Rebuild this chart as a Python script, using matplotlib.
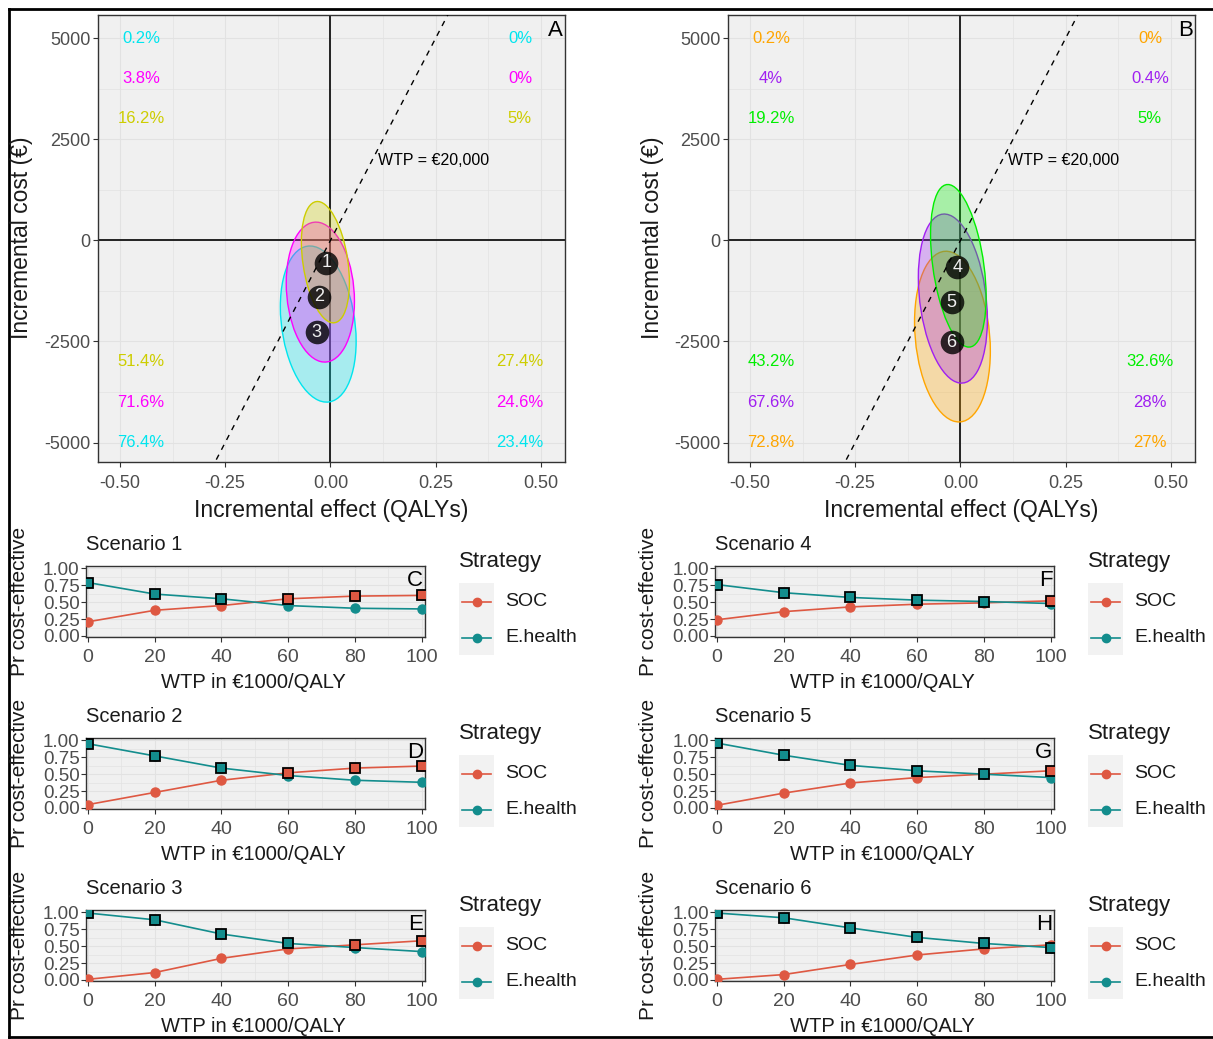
import numpy as np
import matplotlib
matplotlib.use('Agg')
import matplotlib.pyplot as plt
from matplotlib.patches import Circle, Rectangle
from matplotlib.lines import Line2D
from matplotlib.transforms import Affine2D

plt.rcParams['font.family'] = ['Liberation Sans', 'DejaVu Sans']
plt.rcParams['axes.unicode_minus'] = False

# ---- data: cost-effectiveness planes ----
wtp_threshold = 20000
pct_y_top = [5000, 4000, 3000]
pct_y_bot = [-3000, -4000, -5000]

# panel A (scenarios 1-3)
a_ids = ['1', '2', '3']
a_colors = ['#CDCD00', '#FF00FF', '#00E5EE']
a_cx = [-0.012, -0.024, -0.029]
a_cy = [-540, -1280, -2070]
a_sx = [0.057, 0.081, 0.090]
a_sy = [1500, 1730, 1930]
a_rho = [-0.33, -0.13, -0.22]
a_lab_x = [-0.010, -0.028, -0.033]
a_lab_y = [-560, -1400, -2270]
a_top_left = ['16.2%', '3.8%', '0.2%']      # listed in scenario order 1,2,3
a_top_right = ['5%', '0%', '0%']
a_bot_left = ['51.4%', '71.6%', '76.4%']
a_bot_right = ['27.4%', '24.6%', '23.4%']

# panel B (scenarios 4-6)
b_ids = ['4', '5', '6']
b_colors = ['#00EE00', '#A020F0', '#FFA500']
b_cx = [-0.005, -0.018, -0.019]
b_cy = [-630, -1440, -2380]
b_sx = [0.066, 0.082, 0.090]
b_sy = [2010, 2090, 2110]
b_rho = [-0.38, -0.25, -0.17]
b_lab_x = [-0.007, -0.021, -0.021]
b_lab_y = [-670, -1530, -2520]
b_top_left = ['19.2%', '4%', '0.2%']
b_top_right = ['5%', '0.4%', '0%']
b_bot_left = ['43.2%', '67.6%', '72.8%']
b_bot_right = ['32.6%', '28%', '27%']

# ---- data: acceptability curves ----
wtp = [0, 20, 40, 60, 80, 100]
scen_names = ['Scenario 1', 'Scenario 2', 'Scenario 3', 'Scenario 4', 'Scenario 5', 'Scenario 6']
scen_letters = ['C', 'D', 'E', 'F', 'G', 'H']
soc = [
    [0.21, 0.38, 0.45, 0.55, 0.59, 0.60],
    [0.05, 0.23, 0.41, 0.52, 0.59, 0.62],
    [0.01, 0.11, 0.32, 0.46, 0.52, 0.58],
    [0.24, 0.36, 0.43, 0.47, 0.49, 0.52],
    [0.04, 0.22, 0.37, 0.45, 0.50, 0.55],
    [0.01, 0.08, 0.23, 0.37, 0.46, 0.52],
]
ehealth = [
    [0.79, 0.62, 0.55, 0.45, 0.41, 0.40],
    [0.95, 0.77, 0.59, 0.48, 0.41, 0.38],
    [0.99, 0.89, 0.68, 0.54, 0.48, 0.42],
    [0.76, 0.64, 0.57, 0.53, 0.51, 0.48],
    [0.96, 0.78, 0.63, 0.55, 0.50, 0.45],
    [0.99, 0.92, 0.77, 0.63, 0.54, 0.48],
]
# strategy on the frontier at each WTP
frontier = [
    ['E', 'E', 'E', 'S', 'S', 'S'],
    ['E', 'E', 'E', 'S', 'S', 'S'],
    ['E', 'E', 'E', 'E', 'S', 'S'],
    ['E', 'E', 'E', 'E', 'E', 'S'],
    ['E', 'E', 'E', 'E', 'E', 'S'],
    ['E', 'E', 'E', 'E', 'E', 'E'],
]
strategies = ['SOC', 'E.health']
soc_col = '#DE5842'
eh_col = '#138D8D'

W, H = 1213, 1039
fig = plt.figure(figsize=(W / 100, H / 100), dpi=100)

BG = '#F0F0F0'
GRID = '#E2E2E2'
TICKC = '#4D4D4D'


def px_axes(l, t, r, b):
    return fig.add_axes([l / W, 1 - b / H, (r - l) / W, (b - t) / H])


def ftext(x, y, s, **kw):
    return fig.text(x / W, 1 - y / H, s, **kw)


def style(ax, fs):
    ax.set_facecolor(BG)
    for sp in ax.spines.values():
        sp.set_color('#333333')
        sp.set_linewidth(1.0)
    ax.grid(True, which='major', color=GRID, lw=0.8)
    ax.grid(True, which='minor', color=GRID, lw=0.5)
    ax.set_axisbelow(True)
    ax.tick_params(which='major', length=3.5, width=0.8, color='#333333',
                   labelcolor=TICKC, labelsize=fs, pad=2)
    ax.tick_params(which='minor', length=0)


def ce_plane(ax, ids, colors, cx, cy, sx, sy, rho, lx, ly, tl, tr, bl, br, letter):
    style(ax, 13)
    ax.tick_params(axis='x', pad=6)
    ax.set_xlim(-0.552, 0.557)
    ax.set_ylim(-5480, 5570)
    ax.set_xticks([-0.5, -0.25, 0, 0.25, 0.5])
    ax.set_xticklabels(['-0.50', '-0.25', '0.00', '0.25', '0.50'])
    ax.set_yticks([-5000, -2500, 0, 2500, 5000])
    ax.set_xticks([-0.375, -0.125, 0.125, 0.375], minor=True)
    ax.set_yticks([-3750, -1250, 1250, 3750], minor=True)
    ax.axhline(0, color='#222222', lw=1.4, zorder=2)
    ax.axvline(0, color='#222222', lw=1.4, zorder=2)
    xl = np.array([-0.6, 0.6])
    ax.plot(xl, wtp_threshold * xl, color='black', ls=(0, (4, 4)), lw=1.0, zorder=5)
    ax.text(0.112, 1975, 'WTP = €20,000', fontsize=11.5, ha='left', va='center', zorder=6)
    # ellipses, last scenario at the bottom
    for i in range(len(ids) - 1, -1, -1):
        m = Affine2D().from_values(sx[i], sy[i] * rho[i], 0, sy[i] * np.sqrt(1 - rho[i] ** 2), cx[i], cy[i])
        ax.add_patch(Circle((0, 0), 1, transform=m + ax.transData, facecolor=colors[i],
                            alpha=0.3, edgecolor='none', zorder=3))
        ax.add_patch(Circle((0, 0), 1, transform=m + ax.transData, facecolor='none',
                            edgecolor=colors[i], lw=1.0, zorder=3))
    for i in range(len(ids)):
        ax.plot(lx[i], ly[i], 'o', ms=17, color='black', alpha=0.8, mec='none', zorder=7)
        ax.text(lx[i], ly[i], ids[i], color='#F0F0F0', fontsize=13, ha='center', va='center', zorder=8)
    # quadrant percentages
    for i in range(len(ids)):
        j = len(ids) - 1 - i
        ax.text(-0.45, pct_y_top[j], tl[i], color=colors[i], fontsize=12, ha='center', va='center')
        ax.text(0.45, pct_y_top[j], tr[i], color=colors[i], fontsize=12, ha='center', va='center')
        ax.text(-0.45, pct_y_bot[i], bl[i], color=colors[i], fontsize=12, ha='center', va='center')
        ax.text(0.45, pct_y_bot[i], br[i], color=colors[i], fontsize=12, ha='center', va='center')
    ax.text(0.995, 0.966, letter, transform=ax.transAxes, fontsize=16, ha='right', va='center')


axA = px_axes(98, 15, 565, 462)
ce_plane(axA, a_ids, a_colors, a_cx, a_cy, a_sx, a_sy, a_rho, a_lab_x, a_lab_y,
         a_top_left, a_top_right, a_bot_left, a_bot_right, 'A')
axB = px_axes(728, 15, 1195, 462)
ce_plane(axB, b_ids, b_colors, b_cx, b_cy, b_sx, b_sy, b_rho, b_lab_x, b_lab_y,
         b_top_left, b_top_right, b_bot_left, b_bot_right, 'B')

for off in [0, 630]:
    ftext(331 + off, 511, 'Incremental effect (QALYs)', fontsize=16.5, ha='center', va='center', color='#1A1A1A')
    ftext(22 + off, 238, 'Incremental cost (€)', fontsize=16.5, ha='center', va='center',
          rotation=90, color='#1A1A1A')

# ---- acceptability curves ----
for k in range(6):
    col = k // 3
    row = k % 3
    dx = 629 * col
    dy = 172 * row
    ax = px_axes(86 + dx, 566 + dy, 425 + dx, 637 + dy)
    style(ax, 13.5)
    ax.set_xlim(-0.6, 101.0)
    ax.set_ylim(-0.015, 1.035)
    ax.set_xticks(wtp)
    ax.set_xticks([10, 30, 50, 70, 90], minor=True)
    ax.set_yticks([0, 0.25, 0.5, 0.75, 1.0])
    ax.set_yticklabels(['0.00', '0.25', '0.50', '0.75', '1.00'])
    ax.set_yticks([0.125, 0.375, 0.625, 0.875], minor=True)
    ax.tick_params(axis='x', labelsize=14, pad=5)
    ax.tick_params(axis='y', pad=1)
    ax.plot(wtp, soc[k], '-o', color=soc_col, lw=1.2, ms=6.5, zorder=3)
    ax.plot(wtp, ehealth[k], '-o', color=eh_col, lw=1.2, ms=6.5, zorder=3)
    for j, w in enumerate(wtp):
        if frontier[k][j] == 'S':
            ax.plot(w, soc[k][j], 's', ms=7, mfc=soc_col, mec='black', mew=1.3, zorder=4)
        else:
            ax.plot(w, ehealth[k][j], 's', ms=7, mfc=eh_col, mec='black', mew=1.3, zorder=4)
    ax.text(0.995, 0.80, scen_letters[k], transform=ax.transAxes, fontsize=16,
            ha='right', va='center', zorder=6)
    ftext(86 + dx, 545 + dy, scen_names[k], fontsize=14.5, ha='left', va='center', color='#1A1A1A')
    ftext(253 + dx, 683 + dy, 'WTP in €1000/QALY', fontsize=14.5, ha='center', va='center', color='#1A1A1A')
    ftext(20 + dx, 601 + dy, 'Pr cost-effective', fontsize=15, ha='center', va='center',
          rotation=90, color='#1A1A1A')
    # legend
    ftext(459 + dx, 562 + dy, 'Strategy', fontsize=16, ha='left', va='center', color='#1A1A1A')
    fig.add_artist(Rectangle(((459 + dx) / W, 1 - (655 + dy) / H), 35 / W, 72 / H,
                             transform=fig.transFigure, facecolor='#F2F2F2', edgecolor='none'))
    for s, c, yy in zip(strategies, [soc_col, eh_col], [602, 638]):
        fig.add_artist(Line2D([(462 + dx) / W, (491 + dx) / W], [1 - (yy + dy) / H] * 2,
                              transform=fig.transFigure, color=c, lw=1.2))
        fig.add_artist(Line2D([(476.5 + dx) / W], [1 - (yy + dy) / H], transform=fig.transFigure,
                              color=c, marker='o', ms=6, lw=0))
        ftext(505 + dx, yy + dy, s, fontsize=14, ha='left', va='center', color='#1A1A1A')

# outer frame
for xs, ys in [([9, 1213], [9, 9]), ([9, 9], [9, 1037]), ([9, 1213], [1037, 1037])]:
    fig.add_artist(Line2D([x / W for x in xs], [1 - y / H for y in ys], transform=fig.transFigure,
                          color='black', lw=2.0))

fig.savefig('out.png', dpi=100)
